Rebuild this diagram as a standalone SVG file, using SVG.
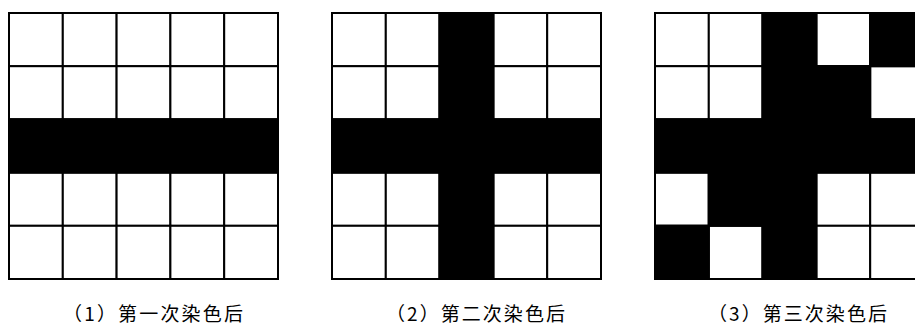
<svg xmlns="http://www.w3.org/2000/svg" width="915" height="325" viewBox="0 0 915 325">
<style>
.bg{fill:#fff}
.cell{fill:#fff;stroke:#000;stroke-width:2}
.blk{fill:#000;stroke:#000;stroke-width:2}
.lbl{font-family:"Noto Sans CJK SC","Noto Sans",sans-serif;font-size:19px;fill:#000}
</style>
<defs>
<g id="grid">
<rect class="cell" x="0" y="0" width="53.8" height="53.2"/>
<rect class="cell" x="53.8" y="0" width="53.8" height="53.2"/>
<rect class="cell" x="107.6" y="0" width="53.8" height="53.2"/>
<rect class="cell" x="161.4" y="0" width="53.8" height="53.2"/>
<rect class="cell" x="215.2" y="0" width="53.8" height="53.2"/>
<rect class="cell" x="0" y="53.2" width="53.8" height="53.2"/>
<rect class="cell" x="53.8" y="53.2" width="53.8" height="53.2"/>
<rect class="cell" x="107.6" y="53.2" width="53.8" height="53.2"/>
<rect class="cell" x="161.4" y="53.2" width="53.8" height="53.2"/>
<rect class="cell" x="215.2" y="53.2" width="53.8" height="53.2"/>
<rect class="cell" x="0" y="106.4" width="53.8" height="53.2"/>
<rect class="cell" x="53.8" y="106.4" width="53.8" height="53.2"/>
<rect class="cell" x="107.6" y="106.4" width="53.8" height="53.2"/>
<rect class="cell" x="161.4" y="106.4" width="53.8" height="53.2"/>
<rect class="cell" x="215.2" y="106.4" width="53.8" height="53.2"/>
<rect class="cell" x="0" y="159.6" width="53.8" height="53.2"/>
<rect class="cell" x="53.8" y="159.6" width="53.8" height="53.2"/>
<rect class="cell" x="107.6" y="159.6" width="53.8" height="53.2"/>
<rect class="cell" x="161.4" y="159.6" width="53.8" height="53.2"/>
<rect class="cell" x="215.2" y="159.6" width="53.8" height="53.2"/>
<rect class="cell" x="0" y="212.8" width="53.8" height="53.2"/>
<rect class="cell" x="53.8" y="212.8" width="53.8" height="53.2"/>
<rect class="cell" x="107.6" y="212.8" width="53.8" height="53.2"/>
<rect class="cell" x="161.4" y="212.8" width="53.8" height="53.2"/>
<rect class="cell" x="215.2" y="212.8" width="53.8" height="53.2"/>
</g>
</defs>
<rect class="bg" x="0" y="0" width="915" height="325"/>

<g id="grid1" transform="translate(9,13)">
<use href="#grid"/>
<rect class="blk" x="0" y="106.4" width="269" height="53.2"/>
</g>

<g id="grid2" transform="translate(332,13)">
<use href="#grid"/>
<rect class="blk" x="0" y="106.4" width="269" height="53.2"/>
<rect class="blk" x="107.6" y="0" width="53.8" height="266"/>
</g>

<g id="grid3" transform="translate(655,13)">
<use href="#grid"/>
<rect class="blk" x="0" y="106.4" width="269" height="53.2"/>
<rect class="blk" x="107.6" y="0" width="53.8" height="266"/>
<rect class="blk" x="215.2" y="0" width="53.8" height="53.2"/>
<rect class="blk" x="161.4" y="53.2" width="53.8" height="53.2"/>
<rect class="blk" x="53.8" y="159.6" width="53.8" height="53.2"/>
<rect class="blk" x="0" y="212.8" width="53.8" height="53.2"/>
</g>

<g id="labels">
<text class="lbl" x="63" y="321" textLength="180" lengthAdjust="spacing">（1）第一次染色后</text>
<text class="lbl" x="386" y="321" textLength="179" lengthAdjust="spacing">（2）第二次染色后</text>
<text class="lbl" x="708" y="321" textLength="179" lengthAdjust="spacing">（3）第三次染色后</text>
</g>
</svg>
